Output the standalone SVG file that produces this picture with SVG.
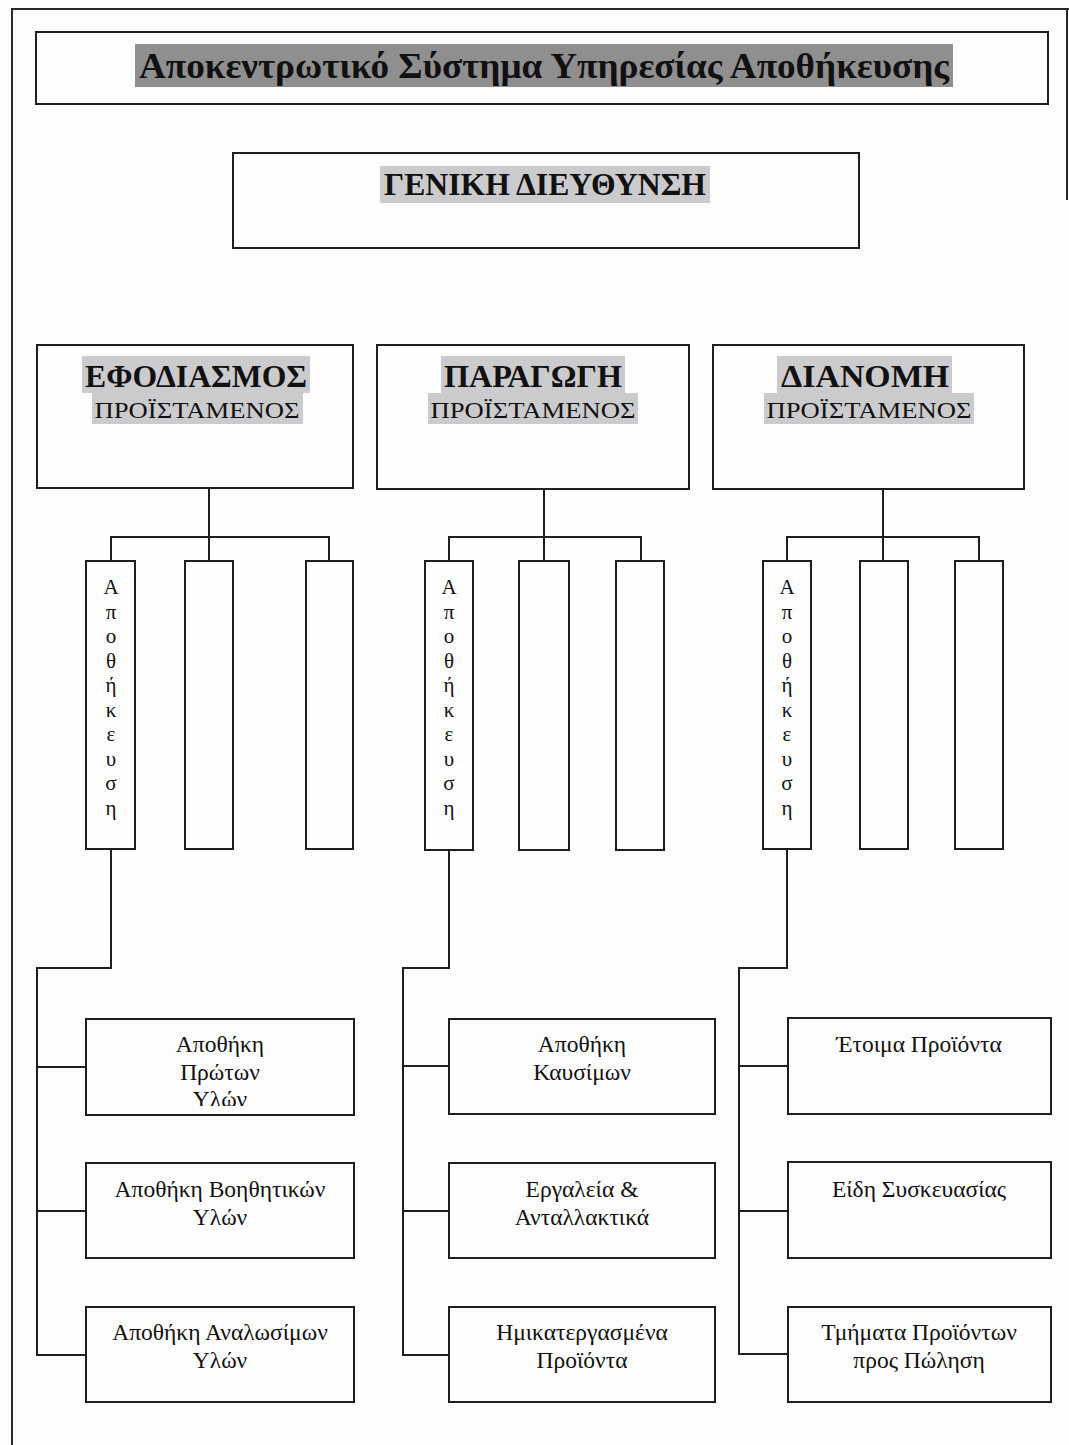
<svg xmlns="http://www.w3.org/2000/svg" width="1069" height="1445" viewBox="0 0 1069 1445">
  <style>
    .box { fill: none; stroke: #1e1e1e; stroke-width: 2; }
    .wire { fill: none; stroke: #1e1e1e; stroke-width: 2; }
    .frame { fill: none; stroke: #2a2a2a; stroke-width: 2; }
    text { font-family: "Liberation Serif", "Times New Roman", "DejaVu Serif", serif; fill: #111; text-anchor: middle; }
    .h1 { font-size: 36px; font-weight: bold; }
    .h2 { font-size: 32px; font-weight: bold; }
    .sub { font-size: 24px; }
    .v { font-size: 21px; }
    .lbl { font-size: 23.5px; }
    .hlDark { fill: #8f8f90; }
    .hlLight { fill: #cbcbce; }
  </style>
  <defs>
    <clipPath id="clipRawMat"><rect x="86" y="1019" width="268" height="87"/></clipPath>
  </defs>

  <rect x="0" y="0" width="1069" height="1445" fill="#fdfdfd"/>

  <!-- page frame -->
  <path class="frame" d="M12 1445 V9 H1069 M1067 9 V200"/>

  <!-- title -->
  <g id="title">
    <rect class="box" x="36" y="32" width="1012" height="72"/>
    <rect class="hlDark" x="135" y="44" width="818" height="43"/>
    <text class="h1" x="544" y="78" textLength="810" lengthAdjust="spacingAndGlyphs">Αποκεντρωτικό Σύστημα Υπηρεσίας Αποθήκευσης</text>
  </g>

  <!-- general management -->
  <g id="general">
    <rect class="box" x="233" y="153" width="626" height="95"/>
    <rect class="hlLight" x="380" y="166" width="330" height="37"/>
    <text class="h2" x="545" y="195" textLength="322" lengthAdjust="spacingAndGlyphs">ΓΕΝΙΚΗ ΔΙΕΥΘΥΝΣΗ</text>
  </g>

  <!-- departments -->
  <g id="supply">
    <rect class="box" x="37" y="345" width="316" height="143"/>
    <rect class="hlLight" x="82" y="356" width="228" height="37"/>
    <rect class="hlLight" x="92" y="393" width="211" height="31"/>
    <text class="h2" x="196" y="387" textLength="222" lengthAdjust="spacingAndGlyphs">ΕΦΟΔΙΑΣΜΟΣ</text>
    <text class="sub" x="197" y="418" textLength="205" lengthAdjust="spacingAndGlyphs">ΠΡΟΪΣΤΑΜΕΝΟΣ</text>
  </g>
  <g id="production">
    <rect class="box" x="377" y="345" width="312" height="144"/>
    <rect class="hlLight" x="441" y="356" width="184" height="37"/>
    <rect class="hlLight" x="428" y="393" width="210" height="31"/>
    <text class="h2" x="533" y="387" textLength="178" lengthAdjust="spacingAndGlyphs">ΠΑΡΑΓΩΓΗ</text>
    <text class="sub" x="533" y="418" textLength="205" lengthAdjust="spacingAndGlyphs">ΠΡΟΪΣΤΑΜΕΝΟΣ</text>
  </g>
  <g id="distribution">
    <rect class="box" x="713" y="345" width="311" height="144"/>
    <rect class="hlLight" x="777" y="356" width="175" height="37"/>
    <rect class="hlLight" x="764" y="393" width="210" height="31"/>
    <text class="h2" x="865" y="387" textLength="168" lengthAdjust="spacingAndGlyphs">ΔΙΑΝΟΜΗ</text>
    <text class="sub" x="869" y="418" textLength="205" lengthAdjust="spacingAndGlyphs">ΠΡΟΪΣΤΑΜΕΝΟΣ</text>
  </g>

  <!-- tall sub-units, supply -->
  <g id="supply-storage">
    <rect class="box" x="86" y="561" width="49" height="288"/>
    <text class="v" x="111" y="594">Α<tspan x="111" dy="24.5">π</tspan><tspan x="111" dy="24.5">ο</tspan><tspan x="111" dy="24.5">θ</tspan><tspan x="111" dy="24.5">ή</tspan><tspan x="111" dy="24.5">κ</tspan><tspan x="111" dy="24.5">ε</tspan><tspan x="111" dy="24.5">υ</tspan><tspan x="111" dy="24.5">σ</tspan><tspan x="111" dy="24.5">η</tspan></text>
  </g>
  <g id="supply-unit2"><rect class="box" x="185" y="561" width="48" height="288"/></g>
  <g id="supply-unit3"><rect class="box" x="306" y="561" width="47" height="288"/></g>

  <!-- tall sub-units, production -->
  <g id="production-storage">
    <rect class="box" x="425" y="561" width="48" height="289"/>
    <text class="v" x="449" y="594">Α<tspan x="449" dy="24.5">π</tspan><tspan x="449" dy="24.5">ο</tspan><tspan x="449" dy="24.5">θ</tspan><tspan x="449" dy="24.5">ή</tspan><tspan x="449" dy="24.5">κ</tspan><tspan x="449" dy="24.5">ε</tspan><tspan x="449" dy="24.5">υ</tspan><tspan x="449" dy="24.5">σ</tspan><tspan x="449" dy="24.5">η</tspan></text>
  </g>
  <g id="production-unit2"><rect class="box" x="519" y="561" width="50" height="289"/></g>
  <g id="production-unit3"><rect class="box" x="616" y="561" width="48" height="289"/></g>

  <!-- tall sub-units, distribution -->
  <g id="distribution-storage">
    <rect class="box" x="763" y="561" width="48" height="288"/>
    <text class="v" x="787" y="594">Α<tspan x="787" dy="24.5">π</tspan><tspan x="787" dy="24.5">ο</tspan><tspan x="787" dy="24.5">θ</tspan><tspan x="787" dy="24.5">ή</tspan><tspan x="787" dy="24.5">κ</tspan><tspan x="787" dy="24.5">ε</tspan><tspan x="787" dy="24.5">υ</tspan><tspan x="787" dy="24.5">σ</tspan><tspan x="787" dy="24.5">η</tspan></text>
  </g>
  <g id="distribution-unit2"><rect class="box" x="860" y="561" width="48" height="288"/></g>
  <g id="distribution-unit3"><rect class="box" x="955" y="561" width="48" height="288"/></g>

  <!-- warehouses, supply -->
  <g id="raw-materials">
    <rect class="box" x="86" y="1019" width="268" height="96"/>
    <text class="lbl" x="220" y="1052" clip-path="url(#clipRawMat)">Αποθήκη<tspan x="220" dy="27.5">Πρώτων</tspan><tspan x="220" dy="27.5">Υλών</tspan></text>
  </g>
  <g id="auxiliary-materials">
    <rect class="box" x="86" y="1163" width="268" height="95"/>
    <text class="lbl" x="220" y="1197">Αποθήκη Βοηθητικών<tspan x="220" dy="27.5">Υλών</tspan></text>
  </g>
  <g id="consumables">
    <rect class="box" x="86" y="1307" width="268" height="95"/>
    <text class="lbl" x="220" y="1340">Αποθήκη Αναλωσίμων<tspan x="220" dy="27.5">Υλών</tspan></text>
  </g>

  <!-- warehouses, production -->
  <g id="fuels">
    <rect class="box" x="449" y="1019" width="266" height="95"/>
    <text class="lbl" x="582" y="1052">Αποθήκη<tspan x="582" dy="27.5">Καυσίμων</tspan></text>
  </g>
  <g id="tools-parts">
    <rect class="box" x="449" y="1163" width="266" height="95"/>
    <text class="lbl" x="582" y="1197">Εργαλεία &amp;<tspan x="582" dy="27.5">Ανταλλακτικά</tspan></text>
  </g>
  <g id="semi-finished">
    <rect class="box" x="449" y="1307" width="266" height="95"/>
    <text class="lbl" x="582" y="1340">Ημικατεργασμένα<tspan x="582" dy="27.5">Προϊόντα</tspan></text>
  </g>

  <!-- warehouses, distribution -->
  <g id="finished-goods">
    <rect class="box" x="788" y="1018" width="263" height="96"/>
    <text class="lbl" x="919" y="1052">Έτοιμα Προϊόντα</text>
  </g>
  <g id="packaging">
    <rect class="box" x="788" y="1162" width="263" height="96"/>
    <text class="lbl" x="919" y="1197">Είδη Συσκευασίας</text>
  </g>
  <g id="products-for-sale">
    <rect class="box" x="788" y="1307" width="263" height="95"/>
    <text class="lbl" x="919" y="1340">Τμήματα Προϊόντων<tspan x="919" dy="27.5">προς Πώληση</tspan></text>
  </g>

  <!-- connectors -->
  <g id="connectors">
    <path class="wire" d="M209 488 V537 M111 561 V537 H329 V561 M209 537 V561"/>
    <path class="wire" d="M544 489 V537 M449 561 V537 H641 V561 M544 537 V561"/>
    <path class="wire" d="M883 489 V537 M787 561 V537 H979 V561 M883 537 V561"/>

    <path class="wire" d="M111 849 V968 H37 V1356 M37 1067 H86 M37 1211 H86 M37 1355 H86"/>
    <path class="wire" d="M449 850 V968 H403 V1356 M403 1066 H449 M403 1211 H449 M403 1355 H449"/>
    <path class="wire" d="M787 849 V968 H739 V1355 M739 1066 H788 M739 1211 H788 M739 1354 H788"/>
  </g>
</svg>
